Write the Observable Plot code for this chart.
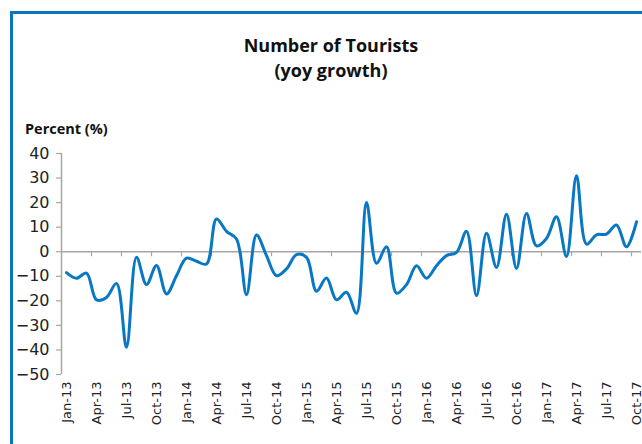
<!DOCTYPE html>
<html>
<head>
<meta charset="utf-8">
<script src="https://cdn.jsdelivr.net/npm/d3@7"></script>
<script src="https://cdn.jsdelivr.net/npm/@observablehq/plot@0.6"></script>
<style>
  html, body { margin: 0; padding: 0; background: #fff; }
  #wrap { position: relative; width: 642px; height: 444px; overflow: hidden; background: #fff; }
  #frame { position: absolute; left: 10px; top: 11px; width: 700px; height: 500px;
           border-left: 3px solid #0a76c0; border-top: 3px solid #0a76c0; box-sizing: border-box; }
  #title { position: absolute; left: 131px; width: 400px; top: 33px; text-align: center;
           font-family: "Open Sans", sans-serif; font-weight: 700; font-size: 18px; line-height: 25px; color: #111; }
  #ylabel { position: absolute; left: 25px; top: 120px; font-family: "Open Sans", sans-serif;
            font-weight: 700; font-size: 14.5px; line-height: 17px; color: #111; white-space: nowrap; }
  #chart { position: absolute; left: 0; top: 0; }
</style>
</head>
<body>
<div id="wrap">
  <div id="chart"></div>
  <div id="frame"></div>
  <div id="title">Number of Tourists<br>(yoy growth)</div>
  <div id="ylabel">Percent (%)</div>
</div>
<script>
// Monthly yoy growth of tourist numbers, Jan-13 .. Oct-17 (percent)
const growth = [
  -8.5, -10.8, -8.7, -19.6, -18.6, -12.9, -38.9, -2.3, -13.4, -5.6, -17.2, -9.8,   // 2013
  -2.6, -3.9, -5.0, 13.3, 8.3, 5.2, -17.5, 6.8, -1.6, -9.8, -7.0, -1.2,            // 2014
  -2.3, -16.1, -10.7, -19.6, -16.5, -25.1, 20.0, -4.7, 2.0, -16.9, -13.4, -5.7,    // 2015
  -10.8, -5.7, -1.6, -0.3, 8.3, -17.9, 7.5, -6.4, 15.3, -6.8, 15.6, 2.4,           // 2016
  5.4, 14.2, -1.9, 30.9, 3.1, 6.9, 7.2, 10.9, 2.0, 12.2                             // 2017
];
// Quarterly category labels shown on the x axis
const quarterLabels = [
  "Jan-13","Apr-13","Jul-13","Oct-13",
  "Jan-14","Apr-14","Jul-14","Oct-14",
  "Jan-15","Apr-15","Jul-15","Oct-15",
  "Jan-16","Apr-16","Jul-16","Oct-16",
  "Jan-17","Apr-17","Jul-17","Oct-17"
];
const yTicks = [40, 30, 20, 10, 0, -10, -20, -30, -40, -50];

const data = growth.map((v, i) => ({i, v}));
const nMonths = growth.length;
const labelPos = quarterLabels.map((_, k) => k * 3 + 0.5);      // category centres
const boundaries = d3.range(3, nMonths + 1, 3);                  // tick marks between categories

const blue = "#0878c4";
const grey = "#a6a6a6";

const chart = Plot.plot({
  width: 642,
  height: 444,
  marginLeft: 61,
  marginRight: 1,
  marginTop: 153,
  marginBottom: 70,
  style: { background: "transparent", fontFamily: "DejaVu Sans, sans-serif", color: "#222" },
  x: { type: "linear", domain: [0, nMonths], axis: null },
  y: { domain: [-50, 40], axis: null },
  marks: [
    Plot.ruleX([0], { y1: -50, y2: 40, stroke: grey, strokeWidth: 1.5 }),
    Plot.ruleY([0], { stroke: grey, strokeWidth: 1.5 }),
    Plot.ruleX(boundaries, { x: d => d, y1: 0, y2: 0, insetBottom: -5, stroke: grey, strokeWidth: 1.2 }),
    Plot.axisY(yTicks, { tickSize: 5, tickPadding: 7, stroke: grey, strokeWidth: 1.2, fontSize: 16, label: null, fill: "#222" }),
    Plot.axisX(labelPos, { tickSize: 0, tickPadding: 7, tickRotate: -90, fontSize: 13, label: null,
                           tickFormat: d => quarterLabels[Math.round((d - 0.5) / 3)], fill: "#222" }),
    Plot.line(data, { x: d => d.i + 0.5, y: "v", curve: "catmull-rom", stroke: blue, strokeWidth: 3 })
  ]
});
document.getElementById("chart").appendChild(chart);
</script>
</body>
</html>
